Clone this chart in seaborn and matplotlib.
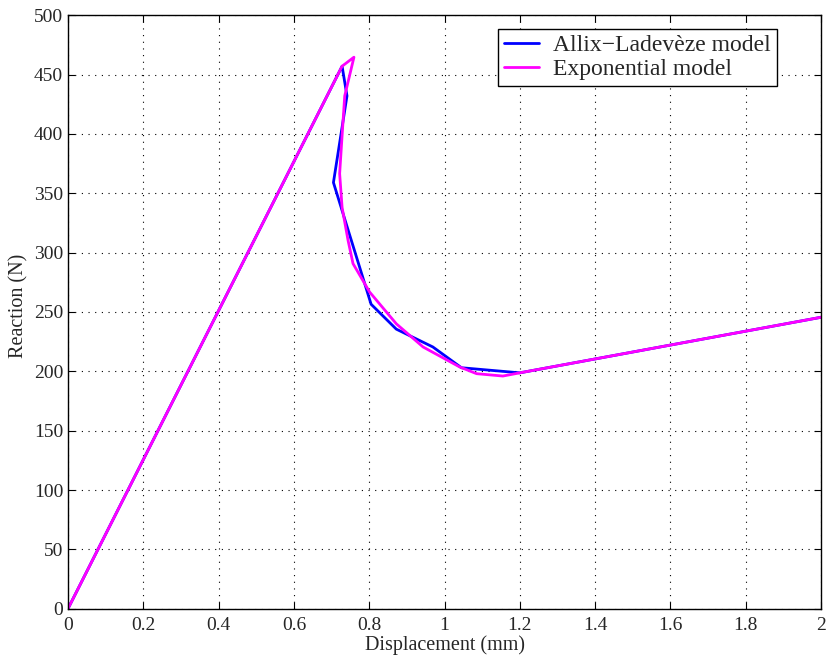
import pandas as pd
import matplotlib.pyplot as plt
import seaborn as sns

# Datos
allix_x = [0.0, 0.728, 0.741, 0.705, 0.805, 0.872, 0.969, 1.045, 1.20, 2.0]
allix_y = [0.0, 457, 432, 359, 256.5, 235.5, 220.5, 203, 198.7, 245.5]

expo_x = [0.0, 0.728, 0.7595, 0.735, 0.7286, 0.7215, 0.728, 0.744, 0.757,
          0.801, 0.872, 0.943, 1.040, 1.085, 1.155, 1.20, 2.0]
expo_y = [0.0, 457, 464.6, 432, 401.5, 366.5, 338, 310, 290.7,
          266.8, 240, 220.5, 203.7, 198, 196, 198.7, 245.5]

df1 = pd.DataFrame({'x': allix_x, 'y': allix_y})
df2 = pd.DataFrame({'x': expo_x, 'y': expo_y})

sns.set_style('ticks')
plt.rcParams['font.family'] = ['Liberation Serif', 'DejaVu Serif']
plt.rcParams['xtick.direction'] = 'in'
plt.rcParams['ytick.direction'] = 'in'

fig = plt.figure(figsize=(8.26, 6.59), dpi=100)
ax = fig.add_axes([0.0823, 0.0763, 0.9117, 0.9007])

sns.lineplot(data=df1, x='x', y='y', sort=False, estimator=None, color='#0000ff',
             linewidth=2, label='Allix\u2212Ladev\u00e8ze model', ax=ax)
sns.lineplot(data=df2, x='x', y='y', sort=False, estimator=None, color='#ff00ff',
             linewidth=2, label='Exponential model', ax=ax)

ax.set_xlim(0, 2)
ax.set_ylim(0, 500)
ax.set_xticks([0, 0.2, 0.4, 0.6, 0.8, 1, 1.2, 1.4, 1.6, 1.8, 2])
ax.set_xticklabels(['0', '0.2', '0.4', '0.6', '0.8', '1', '1.2', '1.4', '1.6', '1.8', '2'])
ax.set_yticks(range(0, 501, 50))
ax.tick_params(labelsize=14, length=5, top=True, right=True, color='black')
ax.tick_params(axis='x', pad=6)
ax.grid(True, linestyle=(0, (1, 5)), color='black', linewidth=0.8)
for s in ax.spines.values():
    s.set_color('black')
    s.set_linewidth(1)

ax.set_xlabel('Displacement (mm)', fontsize=14.5, labelpad=1)
ax.set_ylabel('Reaction (N)', fontsize=14.5)
ax.yaxis.set_label_coords(-0.053, 0.51)

leg = ax.legend(loc='upper right', bbox_to_anchor=(0.9416, 0.9766), fontsize=17,
                frameon=True, fancybox=False, edgecolor='black', framealpha=1,
                handlelength=1.5, handletextpad=0.6, borderpad=0.25,
                labelspacing=0.1, borderaxespad=0)
leg.get_frame().set_linewidth(1)

fig.savefig('out.png')
